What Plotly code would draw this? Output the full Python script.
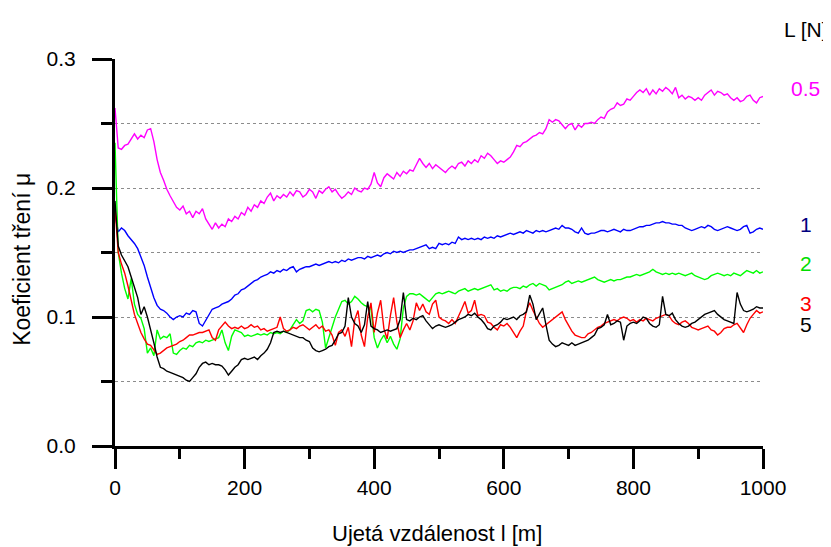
import plotly.graph_objects as go

# distance l [m] (sampling every 5 m)
distance = list(range(0, 1001, 5))

mu_05N = [
    0.262, 0.231, 0.230, 0.233, 0.234, 0.238, 0.242, 0.238, 0.241, 0.239,
    0.245, 0.246, 0.236, 0.222, 0.212, 0.206, 0.199, 0.194, 0.190, 0.185,
    0.183, 0.186, 0.180, 0.182, 0.177, 0.182, 0.180, 0.184, 0.176, 0.172,
    0.168, 0.173, 0.169, 0.172, 0.170, 0.176, 0.174, 0.178, 0.176, 0.181,
    0.179, 0.185, 0.182, 0.187, 0.185, 0.190, 0.188, 0.193, 0.196, 0.190,
    0.194, 0.192, 0.195, 0.193, 0.197, 0.194, 0.198, 0.197, 0.193, 0.195,
    0.199, 0.197, 0.192, 0.198, 0.196, 0.199, 0.201, 0.197, 0.199, 0.195,
    0.192, 0.194, 0.197, 0.195, 0.200, 0.198, 0.197, 0.200, 0.199, 0.203,
    0.212, 0.204, 0.201, 0.208, 0.211, 0.209, 0.207, 0.212, 0.209, 0.213,
    0.211, 0.214, 0.213, 0.218, 0.223, 0.219, 0.216, 0.219, 0.215, 0.218,
    0.216, 0.214, 0.212, 0.215, 0.217, 0.215, 0.219, 0.220, 0.217, 0.221,
    0.219, 0.222, 0.220, 0.225, 0.223, 0.227, 0.225, 0.222, 0.219, 0.221,
    0.220, 0.222, 0.224, 0.228, 0.233, 0.232, 0.235, 0.236, 0.238, 0.240,
    0.241, 0.243, 0.242, 0.246, 0.253, 0.251, 0.253, 0.252, 0.249, 0.246,
    0.249, 0.250, 0.245, 0.249, 0.247, 0.250, 0.250, 0.251, 0.250, 0.253,
    0.255, 0.254, 0.259, 0.261, 0.262, 0.266, 0.264, 0.265, 0.269, 0.268,
    0.271, 0.274, 0.276, 0.274, 0.277, 0.272, 0.276, 0.273, 0.277, 0.275,
    0.278, 0.276, 0.273, 0.278, 0.270, 0.272, 0.269, 0.271, 0.270, 0.268,
    0.270, 0.268, 0.272, 0.274, 0.276, 0.272, 0.275, 0.274, 0.272, 0.273,
    0.270, 0.268, 0.270, 0.267, 0.268, 0.271, 0.272, 0.268, 0.266, 0.270,
    0.271,
]

mu_1N = [
    0.180, 0.166, 0.169, 0.167, 0.163, 0.160, 0.157, 0.153, 0.147, 0.140,
    0.131, 0.123, 0.115, 0.109, 0.106, 0.105, 0.103, 0.100, 0.098, 0.100,
    0.101, 0.100, 0.103, 0.102, 0.105, 0.104, 0.095, 0.093, 0.097, 0.102,
    0.106, 0.107, 0.108, 0.110, 0.111, 0.112, 0.114, 0.117, 0.118, 0.121,
    0.122, 0.124, 0.126, 0.128, 0.129, 0.131, 0.132, 0.133, 0.135, 0.134,
    0.136, 0.135, 0.137, 0.136, 0.138, 0.139, 0.135, 0.137, 0.138, 0.139,
    0.139, 0.140, 0.141, 0.140, 0.141, 0.142, 0.143, 0.142, 0.143, 0.142,
    0.144, 0.143, 0.145, 0.144, 0.145, 0.146, 0.146, 0.145, 0.147, 0.146,
    0.147, 0.148, 0.147, 0.149, 0.150, 0.149, 0.151, 0.150, 0.151, 0.150,
    0.151, 0.152, 0.152, 0.153, 0.154, 0.155, 0.156, 0.153, 0.154, 0.153,
    0.157, 0.156, 0.157, 0.156, 0.158, 0.157, 0.162, 0.160, 0.161, 0.160,
    0.161, 0.160, 0.161, 0.160, 0.162, 0.161, 0.162, 0.161, 0.163, 0.162,
    0.163, 0.164, 0.165, 0.164, 0.165, 0.166, 0.165, 0.167, 0.166, 0.165,
    0.167, 0.166, 0.167, 0.166, 0.167, 0.168, 0.169, 0.168, 0.171, 0.169,
    0.169, 0.168, 0.166, 0.165, 0.169, 0.165, 0.164, 0.165, 0.165, 0.166,
    0.167, 0.167, 0.166, 0.167, 0.168, 0.167, 0.166, 0.168, 0.167, 0.167,
    0.168, 0.169, 0.170, 0.170, 0.171, 0.171, 0.172, 0.173, 0.173, 0.174,
    0.173, 0.173, 0.172, 0.172, 0.171, 0.171, 0.169, 0.168, 0.167, 0.168,
    0.169, 0.170, 0.169, 0.171, 0.170, 0.168, 0.167, 0.168, 0.169, 0.170,
    0.169, 0.168, 0.167, 0.168, 0.170, 0.171, 0.165, 0.166, 0.168, 0.169,
    0.168,
]

mu_2N = [
    0.235, 0.150, 0.134, 0.122, 0.114, 0.130, 0.110, 0.102, 0.099, 0.091,
    0.072, 0.076, 0.070, 0.090, 0.083, 0.085, 0.084, 0.087, 0.072, 0.071,
    0.074, 0.076, 0.075, 0.078, 0.077, 0.080, 0.081, 0.080, 0.082, 0.081,
    0.082, 0.083, 0.084, 0.090, 0.080, 0.074, 0.085, 0.090, 0.089, 0.088,
    0.085, 0.086, 0.085, 0.086, 0.087, 0.086, 0.087, 0.086, 0.088, 0.087,
    0.088, 0.087, 0.089, 0.088, 0.090, 0.094, 0.098, 0.095, 0.097, 0.105,
    0.106, 0.104, 0.106, 0.105, 0.096, 0.076, 0.084, 0.092, 0.100, 0.106,
    0.112, 0.113, 0.110, 0.112, 0.116, 0.114, 0.111, 0.109, 0.108, 0.106,
    0.084, 0.076, 0.082, 0.086, 0.080, 0.085, 0.079, 0.075, 0.083, 0.107,
    0.116, 0.118, 0.118, 0.117, 0.118, 0.116, 0.114, 0.112, 0.115, 0.118,
    0.119, 0.118, 0.119, 0.120, 0.119, 0.118, 0.120, 0.121, 0.122, 0.120,
    0.121, 0.122, 0.121, 0.122, 0.123, 0.124, 0.125, 0.121, 0.122, 0.120,
    0.121, 0.120, 0.122, 0.123, 0.123, 0.122, 0.124, 0.123, 0.125, 0.126,
    0.124, 0.126, 0.125, 0.124, 0.121, 0.122, 0.123, 0.124, 0.125, 0.127,
    0.128, 0.126, 0.127, 0.128, 0.127, 0.128, 0.129, 0.130, 0.131, 0.129,
    0.128, 0.127, 0.128, 0.129, 0.128, 0.129, 0.129, 0.130, 0.131, 0.131,
    0.132, 0.133, 0.132, 0.133, 0.134, 0.135, 0.137, 0.135, 0.134, 0.133,
    0.134, 0.133, 0.134, 0.133, 0.134, 0.133, 0.132, 0.133, 0.134, 0.132,
    0.131, 0.130, 0.129, 0.130, 0.132, 0.133, 0.134, 0.133, 0.132, 0.133,
    0.132, 0.134, 0.133, 0.132, 0.134, 0.136, 0.135, 0.134, 0.136, 0.134,
    0.135,
]

mu_3N = [
    0.185, 0.150, 0.141, 0.134, 0.124, 0.113, 0.102, 0.095, 0.088, 0.083,
    0.079, 0.078, 0.074, 0.071, 0.072, 0.074, 0.076, 0.077, 0.078, 0.079,
    0.081, 0.082, 0.084, 0.086, 0.086, 0.087, 0.088, 0.088, 0.089, 0.090,
    0.084, 0.082, 0.090, 0.093, 0.096, 0.093, 0.091, 0.092, 0.091, 0.093,
    0.091, 0.092, 0.094, 0.092, 0.093, 0.090, 0.091, 0.089, 0.090, 0.091,
    0.092, 0.100, 0.091, 0.089, 0.090, 0.092, 0.091, 0.093, 0.094, 0.092,
    0.090, 0.092, 0.094, 0.091, 0.093, 0.089, 0.090, 0.086, 0.078, 0.088,
    0.090, 0.085, 0.092, 0.077, 0.098, 0.105, 0.086, 0.077, 0.100, 0.111,
    0.088, 0.103, 0.113, 0.091, 0.083, 0.101, 0.115, 0.096, 0.084, 0.090,
    0.095, 0.090, 0.097, 0.111, 0.105, 0.110, 0.104, 0.102, 0.110, 0.113,
    0.100, 0.098, 0.097, 0.095, 0.098, 0.095, 0.100, 0.106, 0.112, 0.103,
    0.105, 0.113, 0.101, 0.102, 0.101, 0.096, 0.095, 0.092, 0.090, 0.094,
    0.093, 0.095, 0.092, 0.088, 0.084, 0.089, 0.093, 0.105, 0.111, 0.105,
    0.100, 0.095, 0.092, 0.094, 0.096, 0.098, 0.100, 0.102, 0.104, 0.098,
    0.093, 0.089, 0.086, 0.085, 0.084, 0.084, 0.087, 0.088, 0.090, 0.092,
    0.093, 0.095, 0.096, 0.097, 0.098, 0.097, 0.099, 0.100, 0.099, 0.097,
    0.098, 0.096, 0.098, 0.097, 0.099, 0.098, 0.097, 0.099, 0.100, 0.101,
    0.102, 0.101, 0.097, 0.095, 0.094, 0.096, 0.097, 0.095, 0.092, 0.091,
    0.090, 0.091, 0.092, 0.093, 0.090, 0.089, 0.086, 0.088, 0.091, 0.092,
    0.092, 0.094, 0.095, 0.091, 0.088, 0.094, 0.099, 0.102, 0.105, 0.103,
    0.104,
]

mu_5N = [
    0.190, 0.155, 0.148, 0.143, 0.139, 0.131, 0.122, 0.115, 0.102, 0.108,
    0.100, 0.091, 0.080, 0.069, 0.061, 0.060, 0.058, 0.057, 0.056, 0.055,
    0.054, 0.053, 0.051, 0.050, 0.053, 0.056, 0.061, 0.064, 0.065, 0.063,
    0.064, 0.063, 0.063, 0.062, 0.059, 0.055, 0.058, 0.061, 0.063, 0.067,
    0.068, 0.067, 0.068, 0.069, 0.067, 0.070, 0.072, 0.075, 0.080, 0.088,
    0.089, 0.088, 0.089, 0.088, 0.087, 0.086, 0.085, 0.084, 0.084, 0.082,
    0.081, 0.076, 0.074, 0.073, 0.074, 0.075, 0.077, 0.078, 0.082, 0.087,
    0.088, 0.093, 0.115, 0.100, 0.095, 0.093, 0.088, 0.094, 0.112, 0.093,
    0.091, 0.090, 0.088, 0.089, 0.090, 0.089, 0.090, 0.091, 0.098, 0.119,
    0.098, 0.097, 0.099, 0.098, 0.100, 0.101, 0.097, 0.094, 0.091, 0.093,
    0.094, 0.093, 0.092, 0.093, 0.094, 0.096, 0.098, 0.099, 0.100, 0.102,
    0.101, 0.103, 0.100, 0.098, 0.095, 0.091, 0.090, 0.093, 0.094, 0.096,
    0.099, 0.098, 0.099, 0.100, 0.098, 0.101, 0.102, 0.104, 0.117, 0.110,
    0.098, 0.102, 0.107, 0.094, 0.082, 0.079, 0.077, 0.078, 0.080, 0.079,
    0.078, 0.080, 0.078, 0.079, 0.080, 0.081, 0.082, 0.084, 0.086, 0.091,
    0.092, 0.094, 0.102, 0.094, 0.095, 0.097, 0.096, 0.082, 0.093, 0.095,
    0.096, 0.095, 0.097, 0.100, 0.099, 0.095, 0.093, 0.092, 0.094, 0.116,
    0.102, 0.101, 0.103, 0.098, 0.095, 0.093, 0.092, 0.093, 0.095, 0.096,
    0.098, 0.100, 0.102, 0.103, 0.104, 0.105, 0.102, 0.100, 0.098, 0.097,
    0.096, 0.095, 0.119, 0.110, 0.105, 0.104, 0.105, 0.106, 0.108, 0.107,
    0.107,
]

series = [
    ("0.5", mu_05N, "#FF00FF", "#FF00FF", 0.9225),
    ("1", mu_1N, "#0000FF", "#000080", 0.5736),
    ("2", mu_2N, "#00FF00", "#00DD00", 0.4703),
    ("3", mu_3N, "#FF0000", "#FF0000", 0.3695),
    ("5", mu_5N, "#000000", "#000000", 0.3152),
]

FONT = "Liberation Sans, Arial, sans-serif"

fig = go.Figure()
for name, vals, col, _, _ in series:
    fig.add_trace(go.Scatter(x=distance, y=vals, mode="lines", name=name,
                             line=dict(color=col, width=1.4), hoverinfo="skip"))

annotations = [
    dict(text="L [N]", x=1.066, y=1.0775, xref="paper", yref="paper",
         showarrow=False, xanchor="center", yanchor="middle",
         font=dict(size=21, color="black", family=FONT)),
    dict(text="Koeficient tření μ", x=-0.1435, y=0.481, xref="paper", yref="paper",
         showarrow=False, textangle=-90, xanchor="center", yanchor="middle",
         font=dict(size=23, color="black", family=FONT)),
    dict(text="Ujetá vzdálenost l [m]", x=0.497, y=-0.226, xref="paper", yref="paper",
         showarrow=False, xanchor="center", yanchor="middle",
         font=dict(size=22, color="black", family=FONT)),
]
for name, _, _, tcol, ypos in series:
    annotations.append(dict(text=name, x=1.066, y=ypos, xref="paper", yref="paper",
                            showarrow=False, xanchor="center", yanchor="middle",
                            font=dict(size=21, color=tcol, family=FONT)))

# page body adds an 8px margin, so the figure is sized/margined to compensate
fig.update_layout(
    width=823, height=539,
    margin=dict(l=107, r=68, t=51, b=101),
    showlegend=False,
    plot_bgcolor="white", paper_bgcolor="white",
    font=dict(family=FONT, size=21, color="black"),
    annotations=annotations,
    xaxis=dict(range=[0, 1000], tick0=0, dtick=200, ticks="outside", ticklen=20,
               tickwidth=3, tickcolor="black", showline=True, linewidth=3,
               linecolor="black", showgrid=False, zeroline=False,
               ticklabelstandoff=1,
               minor=dict(dtick=100, ticks="outside", ticklen=10, tickwidth=3,
                          tickcolor="black", showgrid=False)),
    yaxis=dict(range=[0, 0.3], tick0=0, dtick=0.1, tickformat=".1f",
               ticks="outside", ticklen=20, tickwidth=3, tickcolor="black",
               showline=True, linewidth=3, linecolor="black", zeroline=False,
               showgrid=True, gridcolor="#8c8c8c", gridwidth=1, griddash="dot",
               ticklabelstandoff=12,
               minor=dict(dtick=0.05, ticks="outside", ticklen=11, tickwidth=3,
                          tickcolor="black", showgrid=True, gridcolor="#8c8c8c",
                          gridwidth=1, griddash="dot")),
)

fig.write_html("out.html")
